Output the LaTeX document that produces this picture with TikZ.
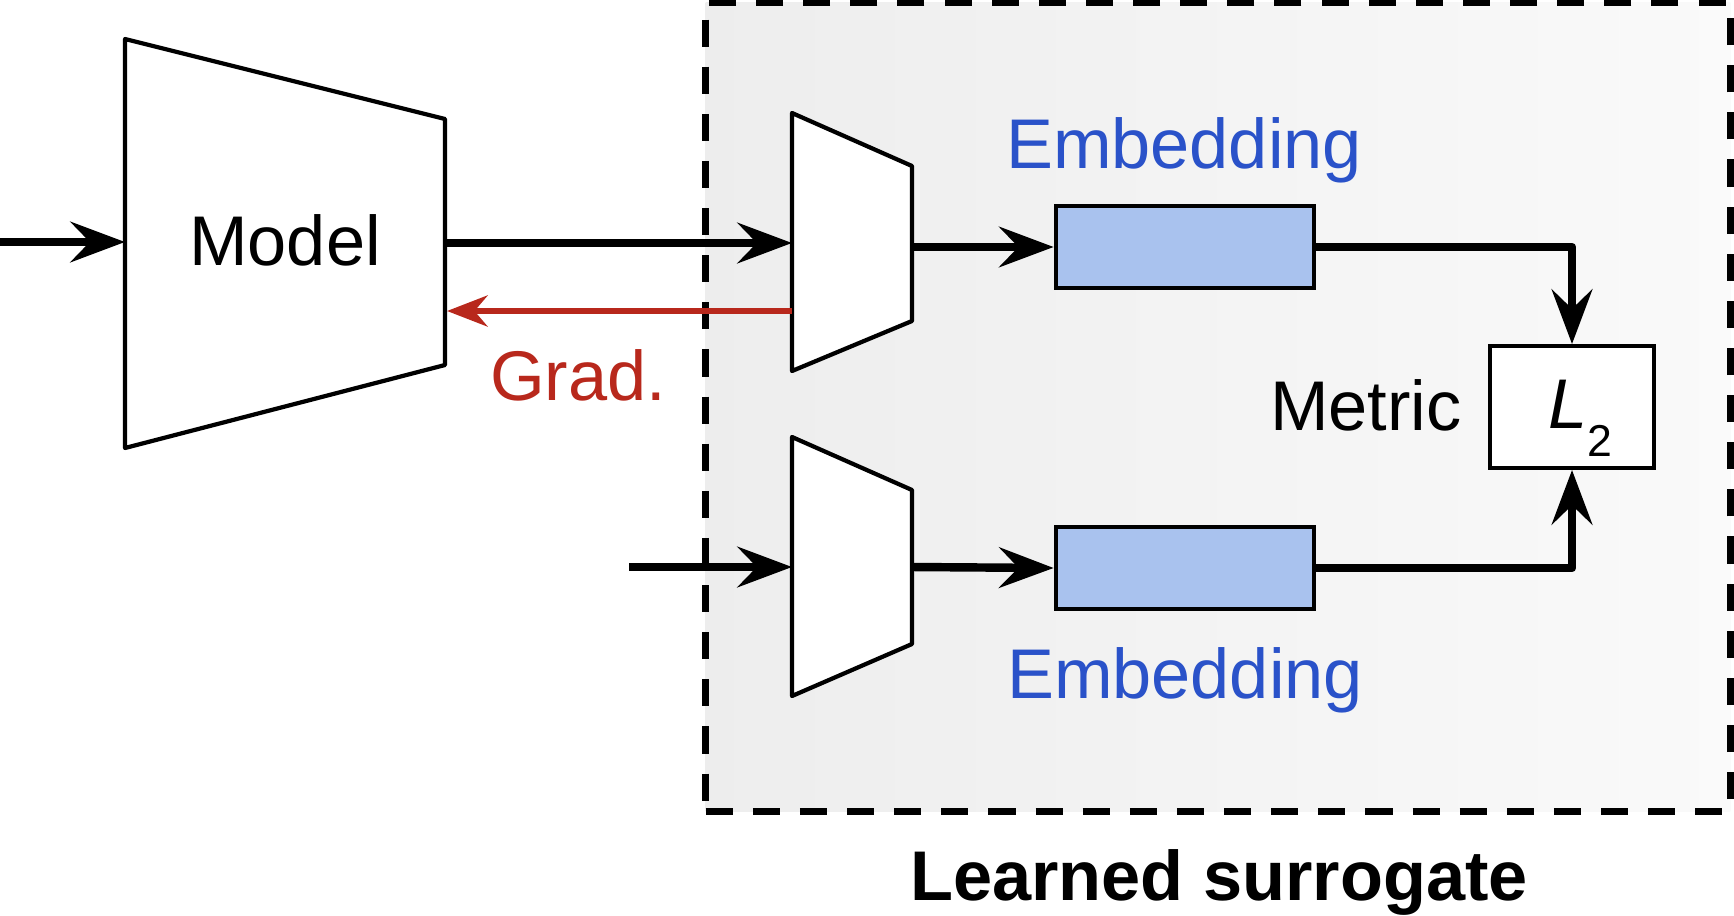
\documentclass[tikz,border=0pt]{standalone}
\usepackage{fontspec}
\setmainfont{Liberation Sans}
\usetikzlibrary{arrows.meta}
\definecolor{gradred}{HTML}{B8281C}
\definecolor{embblue}{HTML}{2A52C9}
\definecolor{embfill}{HTML}{A9C2EE}

\begin{document}
\begin{tikzpicture}[x=0.01cm,y=-0.01cm, every node/.style={font=\fontsize{20}{24}\selectfont},
        flow/.style={line width=2.4pt,-{Stealth[length=15.5pt,width=11.5pt,inset=5.5pt]}},
        back/.style={line width=1.8pt,color=gradred,-{Stealth[length=11.5pt,width=8.8pt,inset=3.7pt]}},
        block/.style={draw,line width=1.2pt,fill=white,line join=round},
        emb/.style={draw,line width=1.3pt,fill=embfill,minimum width=2.58cm,minimum height=0.82cm,inner sep=0pt},
        lbl/.style={anchor=base,inner sep=0pt}]
        \useasboundingbox (0,0) rectangle (1734,915);
        % learned surrogate box
        \node[draw,line width=1.85pt,dash pattern=on 7.7pt off 5.7pt,left color=black!7,right color=black!2,
              minimum width=10.24cm,minimum height=8.08cm,inner sep=0pt] (surr) at (1218,407) {};
        % model
        \coordinate (m1) at (125,39);
        \coordinate (m2) at (445,119);
        \coordinate (m3) at (445,365);
        \coordinate (m4) at (125,448);
        \coordinate (mL) at (125,242);
        \coordinate (mR) at (445,243);
        \coordinate (mG) at (447,311);
        % upper encoder
        \coordinate (a1) at (792,113);
        \coordinate (a2) at (912,166);
        \coordinate (a3) at (912,321);
        \coordinate (a4) at (792,371);
        \coordinate (aL) at (792,243);
        \coordinate (aG) at (792,311);
        \coordinate (aR) at (912,247);
        % lower encoder
        \coordinate (b1) at (792,437);
        \coordinate (b2) at (912,490);
        \coordinate (b3) at (912,644);
        \coordinate (b4) at (792,696);
        \coordinate (bL) at (792,567);
        \coordinate (bR) at (912,567);
        % inputs
        \coordinate (in1) at (0,242);
        \coordinate (in2) at (629,567);
        \draw[block] (m1) -- (m2) -- (m3) -- (m4) -- cycle;
        \draw[block] (a1) -- (a2) -- (a3) -- (a4) -- cycle;
        \draw[block] (b1) -- (b2) -- (b3) -- (b4) -- cycle;
        \node[lbl] (model) at (285,265) {Model};
        \node[lbl,color=gradred] (grad) at (578,400) {Grad.};
        \node[emb] (emb1) at (1185,247) {};
        \node[emb] (emb2) at (1185,568) {};
        \node[lbl,color=embblue] (embtop) at (1184,168) {Embedding};
        \node[lbl,color=embblue] (embbot) at (1185,698) {Embedding};
        \node[draw,line width=1.1pt,fill=white,minimum width=1.64cm,minimum height=1.22cm,inner sep=0pt] (l2) at (1572,407) {};
        \node[lbl] (l2txt) at (1580,428) {\textit{L}\raisebox{-8pt}{\fontsize{12.7}{14}\selectfont 2}};
        \node[lbl] (metric) at (1366,430) {Metric};
        \node[lbl,font=\fontsize{20}{24}\selectfont\bfseries] (surrtitle) at (1219,900) {Learned surrogate};
        \draw[flow] (in1) -- (mL);
        \draw[flow] (mR) -- (aL);
        \draw[back] (aG) -- (mG);
        \draw[flow] (in2) -- (bL);
        \draw[flow] (aR) -- (emb1.west);
        \draw[flow] (bR) -- (emb2.west);
        \draw[flow,line join=round] (emb1.east) -| (l2.north);
        \draw[flow,line join=round] (emb2.east) -| (l2.south);
        \end{tikzpicture}
\end{document}
